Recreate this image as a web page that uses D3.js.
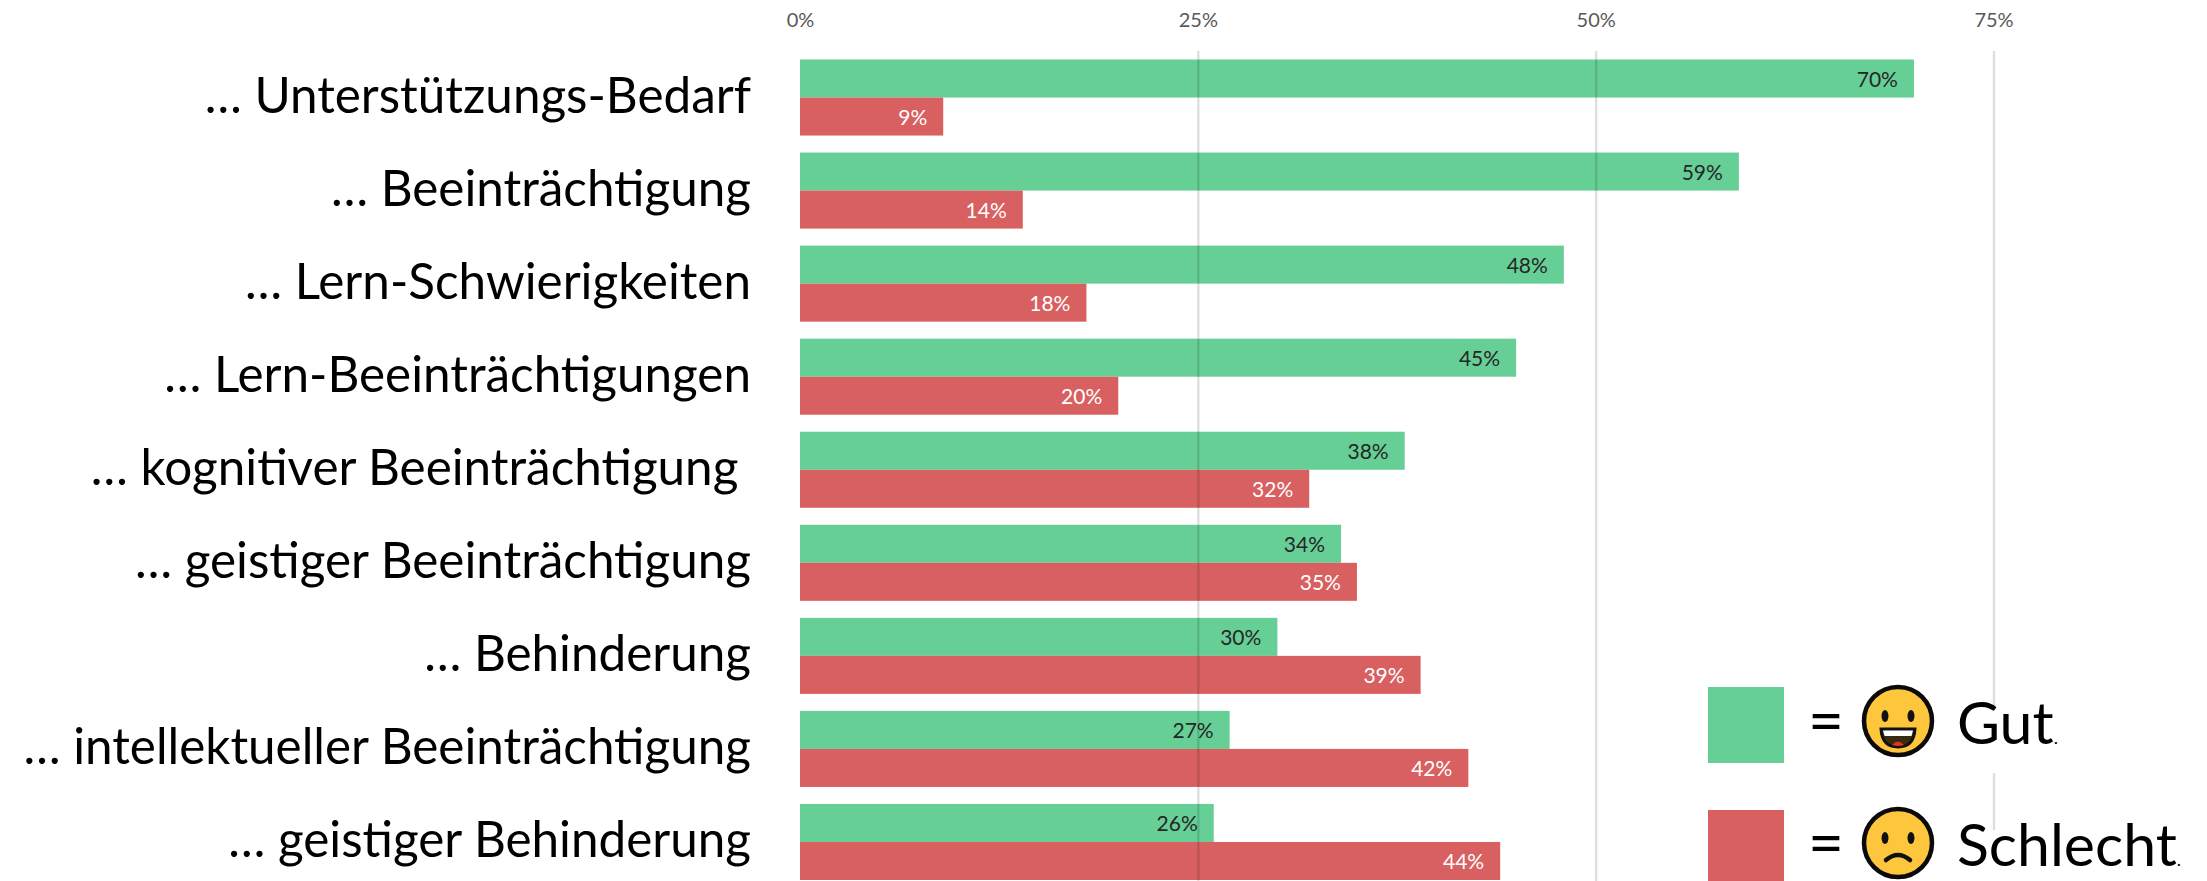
<!DOCTYPE html>
<html><head><meta charset="utf-8">
<script src="https://cdn.jsdelivr.net/npm/d3@7"></script>
<style>html,body{margin:0;padding:0;background:#fff;overflow:hidden}svg{display:block}</style>
</head><body><svg id="c" width="2207" height="881"></svg>
<script>
const categories = ["… Unterstützungs-Bedarf","… Beeinträchtigung","… Lern-Schwierigkeiten","… Lern-Beeinträchtigungen","… kognitiver Beeinträchtigung ","… geistiger Beeinträchtigung","… Behinderung","… intellektueller Beeinträchtigung","… geistiger Behinderung"];
const gutValues = [70,59,48,45,38,34,30,27,26];
const schlechtValues = [9,14,18,20,32,35,39,42,44];
const tickValues = [0,25,50,75];
const seriesNames = ["Gut","Schlecht"];
const colors = {Gut:"#66cf96",Schlecht:"#d86060"};

const svg = d3.select("#c");
const x = d3.scaleLinear().domain([0,75]).range([800,1993.5]);
const y = d3.scaleBand().domain(categories).range([59.5,880]).paddingInner(17/93);
const ys = d3.scaleBand().domain(seriesNames).range([0,y.bandwidth()]);
const font = "Lato, 'Open Sans', sans-serif";

// bars
seriesNames.forEach((s,si)=>{
  const vals = si===0?gutValues:schlechtValues;
  svg.append("g").selectAll("rect").data(categories).join("rect")
    .attr("x",x(0)).attr("y",c=>y(c)+ys(s))
    .attr("width",(c,i)=>x(vals[i])-x(0)).attr("height",ys.bandwidth())
    .attr("fill",colors[s]);
});

// grid (0% has no line)
const grid = svg.append("g").attr("transform","translate(0,51)")
  .call(d3.axisBottom(x).tickValues(tickValues.slice(1)).tickSize(830).tickFormat(""));
grid.select(".domain").remove();
grid.selectAll("line").attr("stroke","#000").attr("stroke-opacity",0.13).attr("stroke-width",2.4);

// tick labels
const topAxis = svg.append("g").attr("transform","translate(0,27)")
  .call(d3.axisTop(x).tickValues(tickValues).tickSize(0).tickPadding(0).tickFormat(d=>d+"%"));
topAxis.select(".domain").remove();
topAxis.selectAll("text").attr("font-family",font).attr("font-size",20).attr("fill","#595959").attr("dy",0);

// value labels
seriesNames.forEach((s,si)=>{
  const vals = si===0?gutValues:schlechtValues;
  svg.append("g").selectAll("text").data(categories).join("text")
    .attr("x",(c,i)=>x(vals[i])-16)
    .attr("y",c=>y(c)+ys(s)+ys.bandwidth()/2+8)
    .attr("text-anchor","end").attr("font-family",font).attr("font-size",21)
    .attr("fill",si===0?"#262626":"#fff")
    .text((c,i)=>vals[i]+"%");
});

// category labels
svg.append("g").selectAll("text").data(categories).join("text")
  .attr("x",751).attr("y",c=>y(c)+ys.bandwidth()+15.5)
  .attr("text-anchor","end").attr("font-family",font).attr("font-size",49.4)
  .attr("fill","#000").style("white-space","pre").text(c=>c);

// legend
const legendRows = [{name:"Gut",sq:687,cy:721,mask:[708,773]},{name:"Schlecht",sq:810,cy:843,mask:[830,881]}];
const lg = svg.append("g");
legendRows.forEach(r=>{
  lg.append("rect").attr("x",1985).attr("y",r.mask[0]).attr("width",20).attr("height",r.mask[1]-r.mask[0]).attr("fill","#fff");
});
legendRows.forEach(r=>{
  const g = lg.append("g");
  g.append("rect").attr("x",1708).attr("y",r.sq).attr("width",76).attr("height",76).attr("fill",colors[r.name]);
  g.append("text").attr("x",1808).attr("y",r.cy+22).attr("font-family",font).attr("font-size",62).attr("fill","#000").text("=");
  const e = g.append("g").attr("transform",`translate(1898,${r.cy})`);
  e.append("circle").attr("r",34).attr("fill","#fec63c").attr("stroke","#0a0a0a").attr("stroke-width",4.5);
  [-13,13].forEach(dx=>e.append("ellipse").attr("cx",dx).attr("cy",-5).attr("rx",3.5).attr("ry",6).attr("fill","#111"));
  if(r.name==="Gut"){
    e.append("path").attr("d","M-17,8 H17 Q16,26 0,26 Q-16,26 -17,8 Z").attr("fill","#3a2a10").attr("stroke","#111").attr("stroke-width",3);
    e.append("path").attr("d","M-15,9.5 H15 L13.5,15 H-13.5 Z").attr("fill","#fff");
    e.append("path").attr("d","M-6,24 Q0,17 6,24 Q0,26 -6,24 Z").attr("fill","#e0341e");
  } else {
    e.append("path").attr("d","M-12,17 Q0,7 12,17").attr("fill","none").attr("stroke","#111").attr("stroke-width",4.5).attr("stroke-linecap","round");
  }
  const t = g.append("text").attr("x",1957).attr("y",r.cy+23).attr("font-family",font).attr("font-size",59).attr("fill","#000");
  t.append("tspan").text(r.name);
  t.append("tspan").attr("font-size",18).text(".");
});
</script></body></html>
